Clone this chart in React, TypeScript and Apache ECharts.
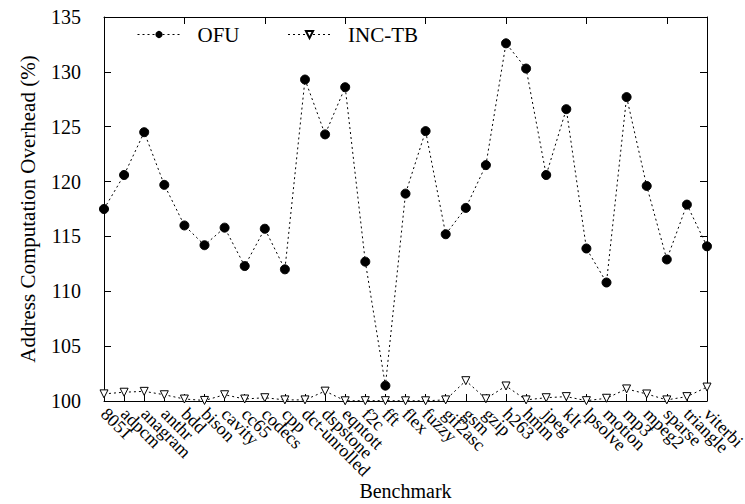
import React, { useEffect, useRef } from "react";
import * as echarts from "echarts";

const categories = [
  "8051", "adpcm", "anagram", "anthr", "bdd", "bison", "cavity", "cc65", "codecs", "cpp",
  "dct-unrolled", "dspstone", "eqntott", "f2c", "fft", "flex", "fuzzy", "gif2asc", "gsm", "gzip",
  "h263", "hmm", "jpeg", "klt", "lpsolve", "motion", "mp3", "mpeg2", "sparse", "triangle", "viterbi",
];

const ofu = [
  117.5, 120.6, 124.5, 119.7, 116.0, 114.2, 115.8, 112.3, 115.7, 112.0,
  129.3, 124.3, 128.6, 112.7, 101.4, 118.9, 124.6, 115.2, 117.6, 121.5,
  132.6, 130.3, 120.6, 126.6, 113.9, 110.8, 127.7, 119.6, 112.9, 117.9, 114.1,
];

const incTb = [
  100.65, 100.8, 100.88, 100.57, 100.18, 100.05, 100.57, 100.18, 100.3, 100.1,
  100.1, 100.9, 100.02, 100.03, 100.03, 100.02, 100.02, 100.1, 101.85, 100.2,
  101.37, 100.1, 100.3, 100.4, 100.03, 100.25, 101.1, 100.64, 100.1, 100.4, 101.27,
];

const yTicks = { min: 100, max: 135, interval: 5 };

const FONT = "'Liberation Serif', serif";

export default function App() {
  const ref = useRef<HTMLDivElement>(null);
  useEffect(() => {
    if (!ref.current) return;
    const chart = echarts.init(ref.current, undefined, { renderer: "svg" });
    const axisLine = { show: true, lineStyle: { color: "#000", width: 1 } };
    const tick = { show: true, inside: true, length: 7, lineStyle: { color: "#000", width: 1 } };
    const font = { fontFamily: FONT, fontSize: 20, color: "#000" };
    chart.setOption({
      animation: false,
      backgroundColor: "#fff",
      textStyle: { fontFamily: FONT, color: "#000" },
      grid: {
        left: 104,
        right: 38,
        top: 17,
        bottom: 103,
        containLabel: false,
        outerBoundsMode: "none",
      },
      legend: {
        left: 132,
        top: 19,
        itemWidth: 43,
        itemHeight: 9,
        itemGap: 48,
        lineStyle: { width: 1, type: [2, 3], color: "#000" },
        textStyle: { ...font, fontSize: 21, padding: [0, 0, 0, 12] },
        data: ["OFU", "INC-TB"],
      },
      xAxis: [
        {
          type: "category",
          data: categories,
          boundaryGap: false,
          position: "bottom",
          axisLine,
          axisTick: { ...tick, alignWithLabel: true },
          axisLabel: { ...font, fontSize: 18, rotate: -45, interval: 0, margin: 10 },
          splitLine: { show: false },
          name: "Benchmark",
          nameLocation: "middle",
          nameGap: 80,
          nameMoveOverlap: false,
          nameTextStyle: font,
        },
        {
          type: "category",
          data: categories,
          boundaryGap: false,
          position: "top",
          axisLine,
          axisTick: tick,
          axisLabel: { show: false },
          splitLine: { show: false },
        },
      ],
      yAxis: [
        {
          type: "value",
          min: yTicks.min,
          max: yTicks.max,
          interval: yTicks.interval,
          position: "left",
          axisLine,
          axisTick: tick,
          axisLabel: { ...font, margin: 23 },
          splitLine: { show: false },
          name: "Address Computation Overhead (%)",
          nameLocation: "middle",
          nameGap: 66,
          nameMoveOverlap: false,
          nameTextStyle: { ...font, fontSize: 21 },
        },
        {
          type: "value",
          min: yTicks.min,
          max: yTicks.max,
          interval: yTicks.interval,
          position: "right",
          axisLine,
          axisTick: tick,
          axisLabel: { show: false },
          splitLine: { show: false },
        },
      ],
      series: [
        {
          name: "OFU",
          type: "line",
          data: ofu,
          xAxisIndex: 0,
          yAxisIndex: 0,
          symbol: "circle",
          symbolSize: 9,
          itemStyle: { color: "#000", borderColor: "#000" },
          lineStyle: { color: "#000", width: 1, type: [2, 3] },
          z: 3,
        },
        {
          name: "INC-TB",
          type: "line",
          data: incTb,
          xAxisIndex: 0,
          yAxisIndex: 0,
          symbol: "triangle",
          symbolRotate: 180,
          symbolSize: 8,
          itemStyle: { color: "#fff", borderColor: "#000", borderWidth: 1 },
          lineStyle: { color: "#000", width: 1, type: [2, 3] },
          z: 2,
        },
      ],
    });
    return () => chart.dispose();
  }, []);
  return (
    <div
      ref={ref}
      style={{ width: 745, height: 504, position: "absolute", left: 0, top: 0, overflow: "hidden" }}
    />
  );
}
